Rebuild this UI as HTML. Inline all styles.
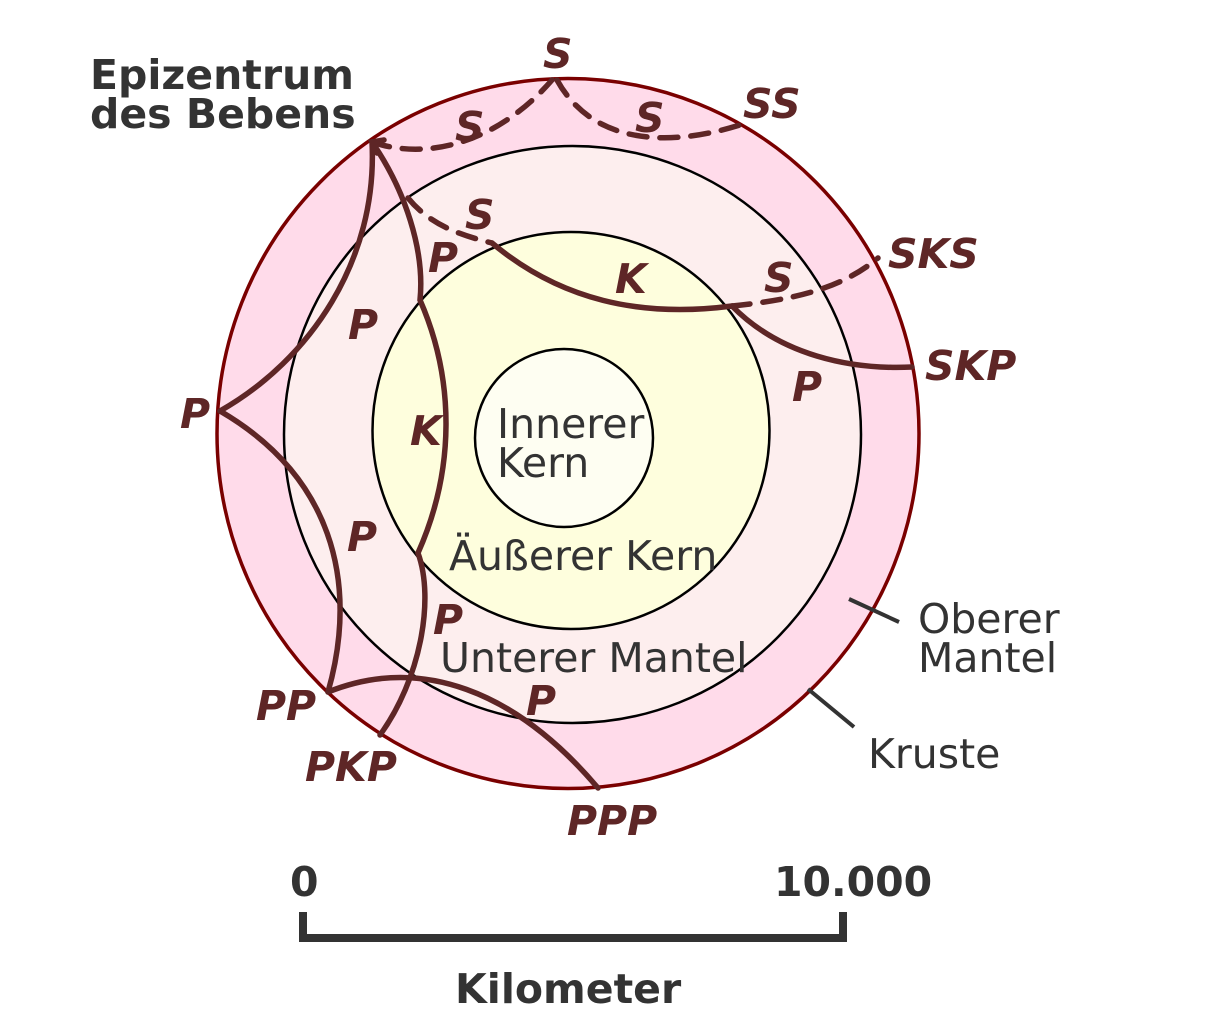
<!DOCTYPE html>
<html><head><meta charset="utf-8"><style>
html,body{margin:0;padding:0;background:#fff;}
svg{display:block}
.r{font-family:"DejaVu Sans","Liberation Sans",sans-serif;font-weight:bold;font-style:italic;fill:#5e2626;font-size:41px}
.b{font-family:"DejaVu Sans","Liberation Sans",sans-serif;fill:#333;font-size:41px}
.bb{font-family:"DejaVu Sans","Liberation Sans",sans-serif;fill:#333;font-size:41px;font-weight:bold}
</style></head><body>
<svg width="1229" height="1024" viewBox="0 0 1229 1024" xmlns="http://www.w3.org/2000/svg">
<ellipse cx="568" cy="433.5" rx="351" ry="355" fill="#ffdbea" stroke="#7a0000" stroke-width="3.5"/>
<circle cx="572.5" cy="434.5" r="288.5" fill="#fdeeee" stroke="#000" stroke-width="2.5"/>
<circle cx="571" cy="430.5" r="198.5" fill="#fefedd" stroke="#000" stroke-width="2.5"/>
<circle cx="564" cy="438" r="89" fill="#fefef2" stroke="#000" stroke-width="2.5"/>
<g fill="none" stroke="#5e2626" stroke-width="5.5" stroke-linecap="round">
<path d="M372,142 C378,260 310,360 220,411"/>
<path d="M220,411 C330,475 360,580 328,692"/>
<path d="M372,142 C405,190 425,250 420,300 C455,380 455,470 418,553 C435,600 420,680 380,735"/>
<path d="M328,692 C420,655 515,690 598,788"/>
<path d="M492,243 C560,300 640,318 732,306 C780,355 850,370 912,367"/>
<path d="M384,140 L372,142 L377,153"/>
<g stroke-dasharray="18,13">
<path d="M372,142 C430,162 500,140 552,80"/>
<path d="M557,80 C590,140 660,150 740,125"/>
<path d="M408,198 C430,225 460,235 492,243"/>
<path d="M732,306 C790,300 840,290 878,258"/>
</g>
</g>
<text class="r" x="543" y="68">S</text>
<text class="r" x="455" y="141">S</text>
<text class="r" x="635" y="132">S</text>
<text class="r" x="743" y="118">SS</text>
<text class="r" x="465" y="229">S</text>
<text class="r" x="428" y="272">P</text>
<text class="r" x="615" y="293">K</text>
<text class="r" x="764" y="292">S</text>
<text class="r" x="888" y="268">SKS</text>
<text class="r" x="925" y="380">SKP</text>
<text class="r" x="348" y="339">P</text>
<text class="r" x="180" y="428">P</text>
<text class="r" x="410" y="445">K</text>
<text class="r" x="792" y="401">P</text>
<text class="r" x="347" y="551">P</text>
<text class="r" x="433" y="634">P</text>
<text class="r" x="526" y="715">P</text>
<text class="r" x="256" y="720">PP</text>
<text class="r" x="305" y="781">PKP</text>
<text class="r" x="567" y="835">PPP</text>
<text class="bb" x="90" y="89">Epizentrum</text>
<text class="bb" x="90" y="128">des Bebens</text>
<text class="b" x="497" y="438">Innerer</text>
<text class="b" x="497" y="477">Kern</text>
<text class="b" x="449" y="570">Äußerer Kern</text>
<text class="b" x="440" y="672">Unterer Mantel</text>
<text class="b" x="918" y="633">Oberer</text>
<text class="b" x="918" y="672">Mantel</text>
<text class="b" x="868" y="768">Kruste</text>
<g stroke="#333" stroke-width="4"><line x1="849" y1="599" x2="899" y2="622"/><line x1="808" y1="689" x2="854" y2="727"/></g>
<text class="bb" x="290" y="896">0</text>
<text class="bb" x="774" y="896">10.000</text>
<path d="M303,912 V938 H843 V912" fill="none" stroke="#333" stroke-width="8"/>
<text class="bb" x="455" y="1003">Kilometer</text>
</svg>
</body></html>
